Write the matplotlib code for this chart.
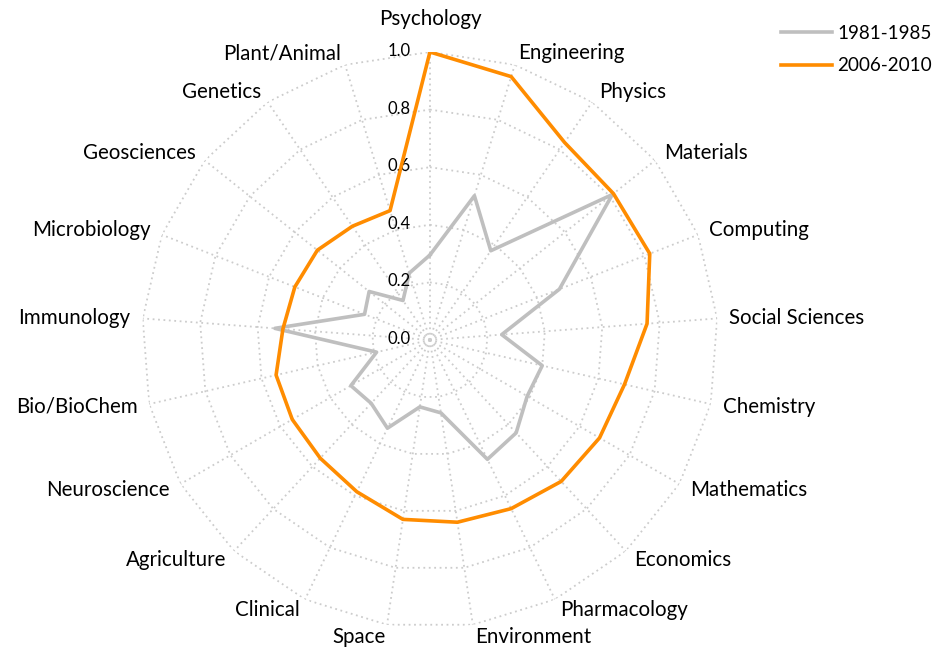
import numpy as np
import matplotlib.pyplot as plt
from matplotlib.transforms import offset_copy

plt.rcParams['font.family'] = ['Lato', 'DejaVu Sans']

categories = ['Psychology', 'Engineering', 'Physics', 'Materials', 'Computing',
              'Social Sciences', 'Chemistry', 'Mathematics', 'Economics',
              'Pharmacology', 'Environment', 'Space', 'Clinical', 'Agriculture',
              'Neuroscience', 'Bio/BioChem', 'Immunology', 'Microbiology',
              'Geosciences', 'Genetics', 'Plant/Animal']
early = [0.295, 0.524, 0.375, 0.81, 0.483, 0.25, 0.40, 0.39, 0.44, 0.46, 0.256,
         0.235, 0.34, 0.30, 0.317, 0.19, 0.54, 0.244, 0.27, 0.166, 0.243]
late = [1.0, 0.957, 0.83, 0.815, 0.82, 0.756, 0.693, 0.68, 0.67, 0.65, 0.64,
        0.63, 0.585, 0.56, 0.552, 0.548, 0.512, 0.504, 0.50, 0.478, 0.47]
ring_levels = [0.0, 0.2, 0.4, 0.6, 0.8, 1.0]
ring_labels = ['0.0', '0.2', '0.4', '0.6', '0.8', '1.0']

n = len(categories)
theta = np.arange(n) * 2 * np.pi / n
theta_closed = np.append(theta, theta[0])

fig = plt.figure(figsize=(9.37, 6.48), dpi=100)
ax = fig.add_axes([0.1515, 0.0309, 0.6147, 0.8889], projection='polar')
ax.set_theta_zero_location('N')
ax.set_theta_direction(-1)
ax.set_ylim(0, 1)
ax.grid(False)
ax.spines['polar'].set_visible(False)
ax.set_xticks([])
ax.set_yticks([])
ax.patch.set_alpha(0)

grid_kw = dict(color='#cccccc', linestyle=(0, (1, 2)), linewidth=1.3, zorder=1)
# polygon rings (skip 0.0, it is just the centre)
for lev in ring_levels[1:]:
    ax.plot(theta_closed, [lev] * (n + 1), **grid_kw)
# spokes
for t in theta:
    ax.plot([t, t], [0, 1], **grid_kw)

ax.plot(theta_closed, early + early[:1], color='#bfbfbf', linewidth=2.6,
        label='1981-1985', zorder=3)
ax.plot(theta_closed, late + late[:1], color='#ff8c00', linewidth=2.6,
        label='2006-2010', zorder=4)

# radial value labels, left of the top spoke
tr = offset_copy(ax.transData, fig=fig, x=-19, y=1, units='dots')
for lev, lab in zip(ring_levels, ring_labels):
    ax.text(0, lev, lab, transform=tr, ha='right', va='center', fontsize=12)

# category labels
lab_size = 14.8
for t, name in zip(theta, categories):
    s = np.sin(t)
    if abs(s) < 0.05:
        ax.text(t, 1.115, name, ha='center', va='center', fontsize=lab_size,
                clip_on=False)
    else:
        ha = 'left' if s > 0 else 'right'
        ax.text(t, 1.042, name, ha=ha, va='center', fontsize=lab_size,
                clip_on=False)

fig.legend(loc='upper left', bbox_to_anchor=(0.833, 0.962), frameon=False,
           fontsize=13.6, handlelength=2.75, handletextpad=0.27,
           labelspacing=0.82, borderaxespad=0, borderpad=0)

fig.savefig('out.png', dpi=100)
